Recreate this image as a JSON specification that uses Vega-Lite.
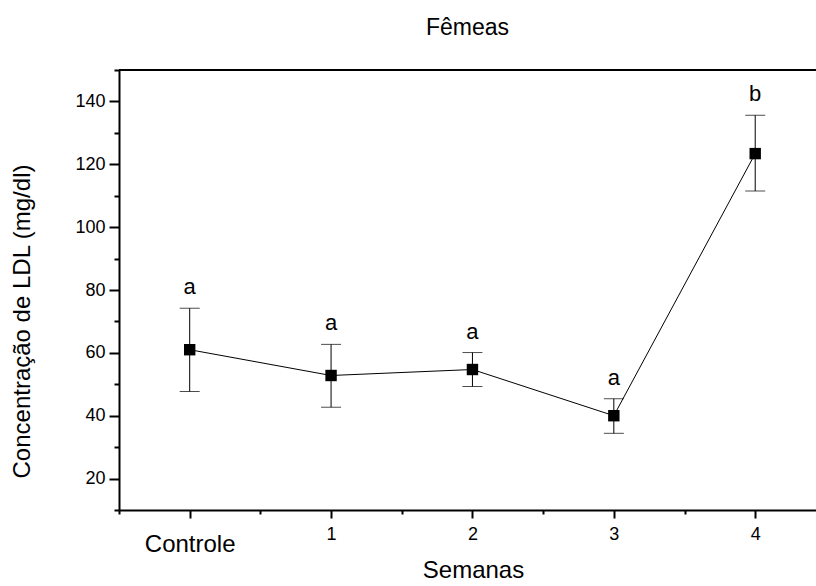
{
  "$schema": "https://vega.github.io/schema/vega-lite/v6.json",
  "width": 697,
  "height": 440,
  "autosize": "none",
  "padding": {"left": 119, "top": 70, "right": 0, "bottom": 76},
  "background": "white",
  "config": {"font": "Liberation Sans", "view": {"stroke": null}},
  "title": {"text": "Fêmeas", "fontSize": 23, "fontWeight": "normal", "color": "black", "offset": 29, "font": "Liberation Sans"},
  "data": {"values": [
    {"semana": 0, "media": 61.0, "min": 47.7, "max": 74.2, "letra": "a"},
    {"semana": 1, "media": 52.8, "min": 42.7, "max": 62.7, "letra": "a"},
    {"semana": 2, "media": 54.7, "min": 49.3, "max": 60.1, "letra": "a"},
    {"semana": 3, "media": 40.0, "min": 34.4, "max": 45.4, "letra": "a"},
    {"semana": 4, "media": 123.4, "min": 111.5, "max": 135.6, "letra": "b"}
  ]},
  "resolve": {"axis": {"x": "independent", "y": "independent"}},
  "layer": [
    {
      "mark": {"type": "rule", "color": "black", "strokeWidth": 1},
      "encoding": {
        "x": {"field": "semana", "type": "quantitative", "scale": {"domain": [-0.5, 4.43], "nice": false, "zero": false},
          "axis": {"orient": "bottom", "values": [0, 1, 2, 3, 4], "title": "Semanas", "titleFontSize": 24, "titleFontWeight": "normal", "titleColor": "black", "titleX": 354, "titleY": 48, "titleBaseline": "top",
            "labelExpr": "datum.value == 0 ? 'Controle' : datum.label",
            "labelFontSize": {"condition": {"test": "datum.value == 0", "value": 24}, "value": 18},
            "labelPadding": {"condition": {"test": "datum.value == 0", "value": 14}, "value": 7},
            "labelColor": "black", "tickSize": 8, "tickWidth": 2, "tickColor": "black", "domainColor": "black", "domainWidth": 2, "grid": false, "labelFlush": false, "labelOverlap": false}},
        "y": {"field": "min", "type": "quantitative", "scale": {"domain": [10, 150], "nice": false, "zero": false},
          "axis": {"orient": "left", "values": [20, 40, 60, 80, 100, 120, 140], "title": "Concentração de LDL (mg/dl)", "titleFontSize": 24, "titleFontWeight": "normal", "titleColor": "black", "titlePadding": 40, "titleY": 251,
            "labelFontSize": 18, "labelColor": "black", "labelPadding": 4, "tickSize": 10, "tickWidth": 2, "tickColor": "black", "domainColor": "black", "domainWidth": 2, "grid": false, "labelFlush": false}},
        "y2": {"field": "max"}
      }
    },
    {
      "mark": {"type": "tick", "orient": "horizontal", "size": 20, "thickness": 1, "color": "black"},
      "encoding": {
        "x": {"field": "semana", "type": "quantitative",
          "axis": {"orient": "bottom", "values": [-0.5, 0.5, 1.5, 2.5, 3.5], "labels": false, "title": null, "domain": false, "tickSize": 4, "tickWidth": 2, "tickColor": "black", "grid": false}},
        "y": {"field": "min", "type": "quantitative",
          "axis": {"orient": "left", "values": [10, 30, 50, 70, 90, 110, 130, 150], "labels": false, "title": null, "domain": false, "tickSize": 5, "tickWidth": 2, "tickColor": "black", "grid": false}}
      }
    },
    {
      "mark": {"type": "tick", "orient": "horizontal", "size": 20, "thickness": 1, "color": "black"},
      "encoding": {
        "x": {"field": "semana", "type": "quantitative", "axis": null},
        "y": {"field": "max", "type": "quantitative", "axis": null}
      }
    },
    {
      "mark": {"type": "line", "color": "black", "strokeWidth": 1},
      "encoding": {
        "x": {"field": "semana", "type": "quantitative", "axis": null},
        "y": {"field": "media", "type": "quantitative", "axis": null}
      }
    },
    {
      "mark": {"type": "square", "size": 130, "filled": true, "color": "black", "opacity": 1},
      "encoding": {
        "x": {"field": "semana", "type": "quantitative", "axis": null},
        "y": {"field": "media", "type": "quantitative", "axis": null}
      }
    },
    {
      "mark": {"type": "text", "fontSize": 22, "color": "black", "baseline": "alphabetic", "dy": -14},
      "encoding": {
        "x": {"field": "semana", "type": "quantitative", "axis": null},
        "y": {"field": "max", "type": "quantitative", "axis": null},
        "text": {"field": "letra"}
      }
    },
    {
      "mark": {"type": "rule", "color": "black", "strokeWidth": 2},
      "encoding": {
        "y": {"datum": 150, "type": "quantitative", "axis": null}
      }
    }
  ]
}
